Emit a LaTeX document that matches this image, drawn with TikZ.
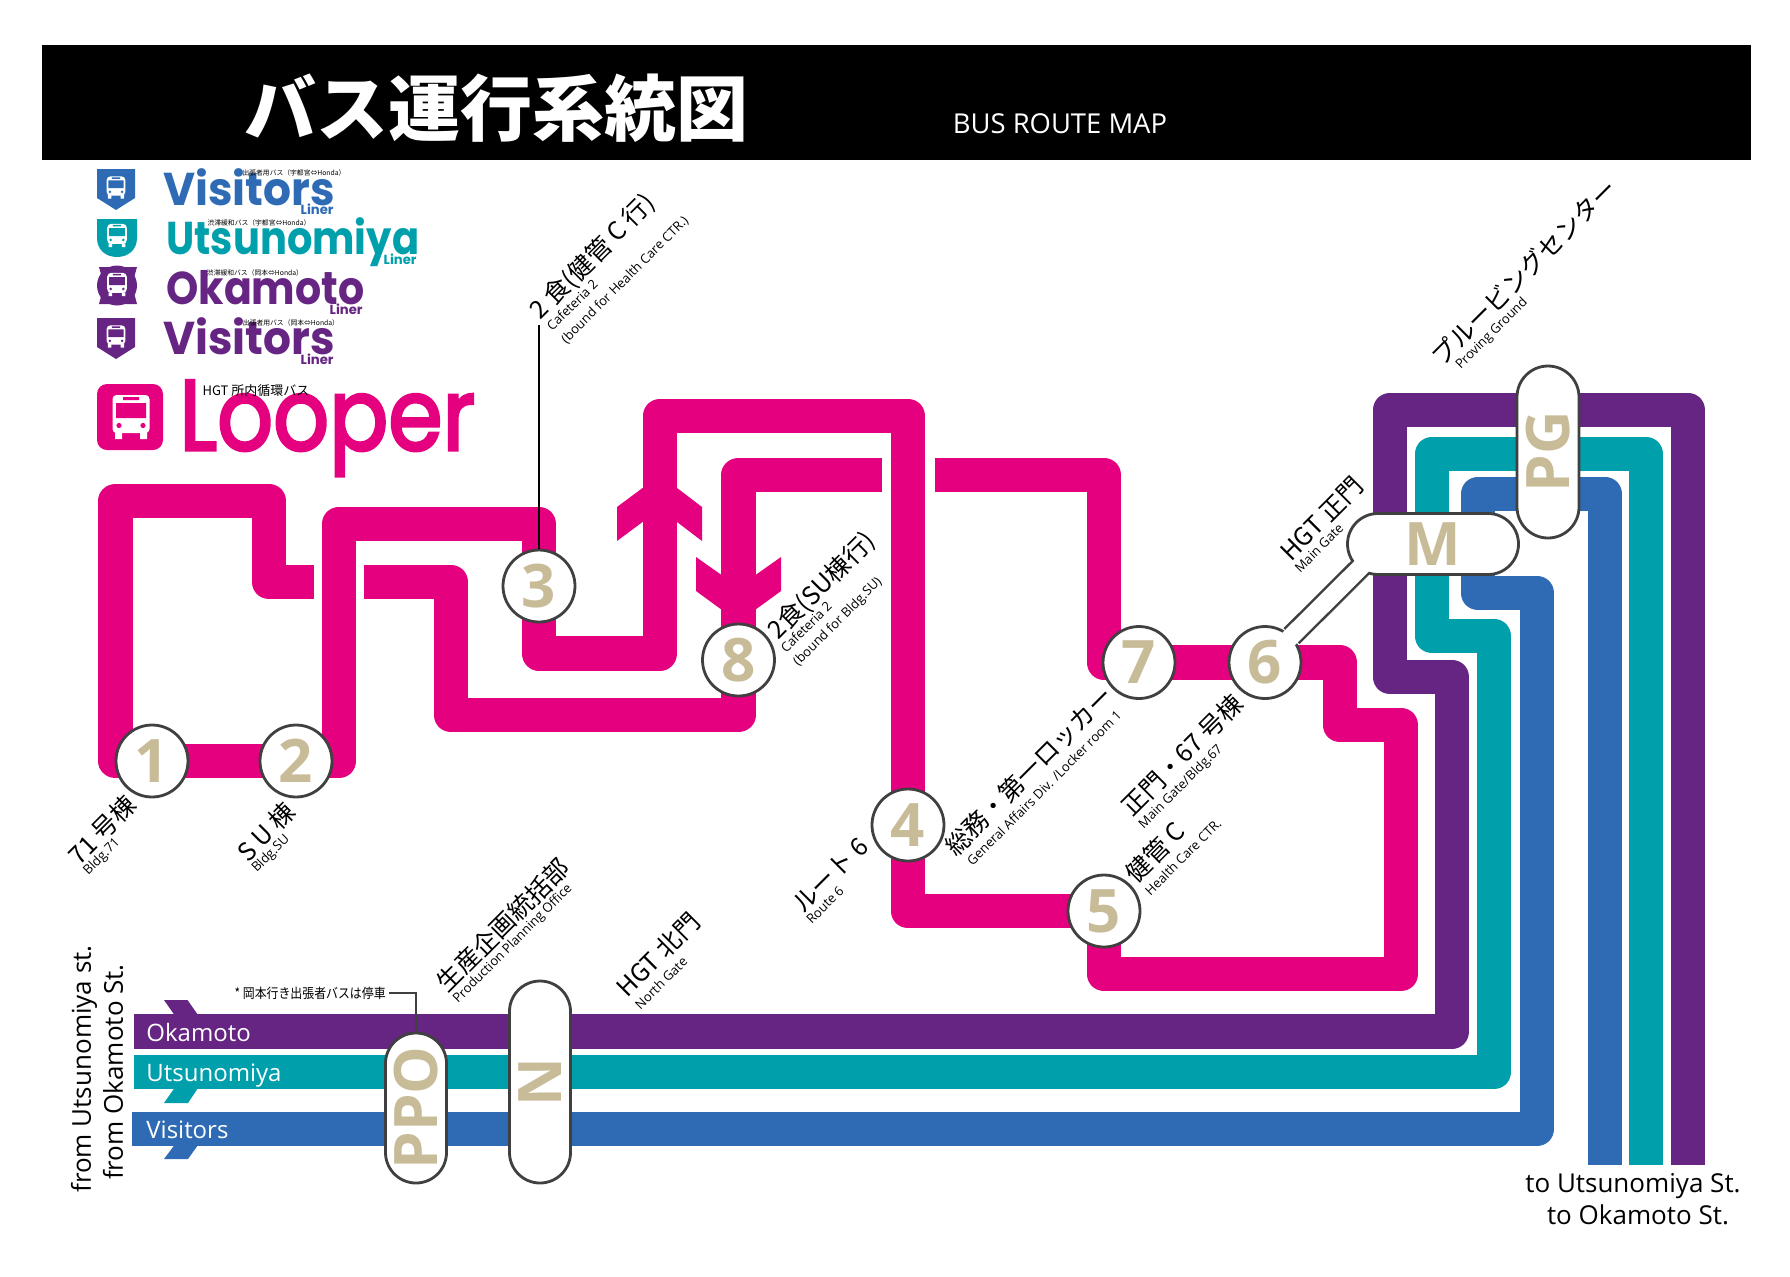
\documentclass[tikz,border=0pt]{standalone}
\usepackage{fontspec}
\setmainfont{Open Sans}
\newfontfamily\jpfont{Noto Sans CJK JP}
\newfontfamily\logofont{Poppins}
\newfontfamily\loopfont[FakeBold=3]{Poppins}
\usetikzlibrary{shapes.misc, backgrounds, calc}
\definecolor{LooperPink}{HTML}{E5007F}
\definecolor{OkaPurple}{HTML}{662483}
\definecolor{UtsTeal}{HTML}{009FAC}
\definecolor{VisBlue}{HTML}{2E6BB4}
\definecolor{StopTan}{HTML}{C8BB98}
\definecolor{StopEdge}{HTML}{404040}
\tikzset{
  looper/.style={draw=LooperPink, line width=17.3pt, line join=round},
  okaLine/.style={draw=OkaPurple, line width=17.3pt, line join=round},
  utsLine/.style={draw=UtsTeal, line width=17.3pt, line join=round},
  visLine/.style={draw=VisBlue, line width=17.3pt, line join=round},
  stopN/.style={circle, draw=StopEdge, fill=white, line width=1.4pt,
                inner sep=0pt, minimum size=36pt, text=StopTan,
                font=\fontsize{30}{30}\selectfont\bfseries},
  gate/.style={rounded rectangle, draw=StopEdge, fill=white, line width=1.4pt,
               inner sep=0pt, minimum height=30.5pt, text=StopTan,
               font=\fontsize{30}{30}\selectfont\bfseries},
  nameJ/.style={rotate=45, inner sep=0pt, font=\jpfont\fontsize{12.5}{15}\selectfont},
  nameE/.style={rotate=45, inner sep=0pt, align=left, font=\fontsize{6.5}{8}\selectfont},
  routeT/.style={text=white, anchor=west, inner sep=0pt, font=\fontsize{12}{14}\selectfont},
  logoT/.style={anchor=base west, inner sep=0pt, font=\logofont\bfseries\fontsize{23}{24}\selectfont},
  linerT/.style={anchor=base east, inner sep=0pt, font=\logofont\bfseries\fontsize{6.6}{8}\selectfont},
  logoSub/.style={inner sep=0pt, font=\jpfont\fontsize{3.4}{4}\selectfont},
}
\newcommand{\busmark}[4]{%
  \begin{scope}[shift={(#1,#2)}, scale=#3]
    \fill[white, rounded corners=2pt] (-18.5,-23) rectangle (18.5,15);
    \fill[white] (-16,14) rectangle (-9,21) (9,14) rectangle (16,21);
    \fill[#4] (-15,-15) rectangle (15,0) (-8,-21) rectangle (8,-18);
    \fill[#4] (-12,7.5) circle (1.3pt) (12,7.5) circle (1.3pt);
  \end{scope}}
\begin{document}
\begin{tikzpicture}[x=0.5pt, y=-0.5pt]
    \useasboundingbox (0,0) rectangle (1790,1276);
    %% header
    \fill[black] (42,45) rectangle (1751,160);
    \node[text=white, font=\jpfont\bfseries\fontsize{36}{40}\selectfont] (title) at (496,108) {バス運行系統図};
    \node[text=white, font=\fontsize{13.7}{15}\selectfont] (subtitle) at (1060,124) {BUS ROUTE MAP};
    %% logos
    \fill[VisBlue] (97,169) -- (135,169) -- (135,198) -- (116,210) -- (97,198) -- cycle;
    \fill[UtsTeal] (97,219) -- (137,219) -- (137,238) .. controls (137,250) and (128,257) .. (117,257)
      .. controls (106,257) and (97,250) .. (97,238) -- cycle;
    \fill[OkaPurple] (99,267) -- (137,267) -- (132,285) -- (137,304) -- (99,304) -- (104,285) -- cycle;
    \fill[OkaPurple] (117,285.5) circle (10pt);
    \fill[OkaPurple] (97,318) -- (135,318) -- (135,347) -- (116,359) -- (97,347) -- cycle;
    \fill[LooperPink, rounded corners=5pt] (97,384) rectangle (163,450);
    \busmark{116}{188}{0.51}{VisBlue}
    \busmark{117}{236}{0.53}{UtsTeal}
    \busmark{117}{285}{0.53}{OkaPurple}
    \busmark{116}{337}{0.51}{OkaPurple}
    \busmark{131}{418}{1}{LooperPink}
    \node[logoT, text=VisBlue, xscale=0.955] (logoVis) at (163,205) {Visitors};
    \node[logoT, text=UtsTeal, xscale=0.87] (logoUts) at (166,254) {Utsunomiya};
    \node[logoT, text=OkaPurple, xscale=0.893] (logoOka) at (166,304) {Okamoto};
    \node[logoT, text=OkaPurple, xscale=0.955] (logoVisB) at (163,354) {Visitors};
    \node[logoT, text=LooperPink, xscale=0.875, font=\loopfont\fontsize{50}{50}\selectfont] (logoLoop) at (179,450) {Looper};
    \node[linerT, text=VisBlue] (linerVis) at (334,214) {Liner};
    \node[linerT, text=UtsTeal] (linerUts) at (417,264) {Liner};
    \node[linerT, text=OkaPurple] (linerOka) at (363,314) {Liner};
    \node[linerT, text=OkaPurple] (linerVisB) at (334,364) {Liner};
    \node[logoSub] (subVis) at (294,173) {出張者用バス（宇都宮⇔Honda）};
    \node[logoSub] (subUts) at (259,223) {渋滞緩和バス（宇都宮⇔Honda）};
    \node[logoSub] (subOka) at (255,273) {渋滞緩和バス（岡本⇔Honda）};
    \node[logoSub] (subVisB) at (291,323) {出張者用バス（岡本⇔Honda）};
    \node[inner sep=0pt, font=\jpfont\fontsize{6.5}{8}\selectfont] (subLoop) at (256,391) {HGT 所内循環バス};
    %% stops
    \node[stopN] (n1) at (152,761) {1};
    \node[stopN] (n2) at (296,761) {2};
    \node[stopN] (n3) at (539,586) {3};
    \node[stopN] (n4) at (908,825) {4};
    \node[stopN] (n5) at (1104,911) {5};
    \node[stopN] (n6) at (1265,662.5) {6};
    \node[stopN] (n7) at (1139,662.5) {7};
    \node[stopN] (n8) at (738.5,660) {8};
    %% gates
    \node[gate, rotate=90, minimum width=75pt] (ppo) at (416,1108) {PPO};
    \node[gate, rotate=90, minimum width=101pt] (ngate) at (540,1082) {N};
    \node[gate, rotate=90, minimum width=86pt, minimum height=31pt] (pg) at (1548,452) {PG};
    \node[gate, minimum width=85.5pt] (mgate) at (1433,544) {M};
    \coordinate (mjoin) at (1366,562);
    \draw[white, line width=8.8pt, shorten <=-2pt] (n6) -- (mjoin);
    %% free ends
    \coordinate (okaS) at (134,1031.5);
    \coordinate (utsS) at (134,1072);
    \coordinate (visS) at (132,1129);
    \coordinate (okaE) at (1688,1165);
    \coordinate (utsE) at (1646,1165);
    \coordinate (visE) at (1605,1165);
    \coordinate (stubA) at (314,582);
    \coordinate (stubB) at (364,582);
    \coordinate (stubC) at (882,475);
    \coordinate (stubD) at (935,475);
    \coordinate (cafeTop) at (539,325);
    \begin{scope}[on background layer]
      %% bus lines
      \draw[okaLine] (okaS) -- (1452,1031.5) -- (1452,677) -- (1390,677) -- (1390,410) -- (1688,410) -- (okaE);
      \draw[utsLine] (utsS) -- (1494,1072) -- (1494,636) -- (1432,636) -- (1432,454) -- (1646,454) -- (utsE);
      \draw[visLine] (visS) -- (1537,1129) -- (1537,593) -- (1478,593) -- (1478,494) -- (1605,494) -- (visE);
      \fill[OkaPurple] (164,1000) -- (187.5,1000) -- (198,1015) -- (174.5,1015) -- cycle;
      \fill[UtsTeal] (174.5,1088) -- (198,1088) -- (188,1103) -- (164,1103) -- cycle;
      \fill[VisBlue] (174.5,1145) -- (198,1145) -- (188,1159) -- (164,1159) -- cycle;
      %% looper line
      \draw[looper] (n1.center) -- (115.5,761) -- (115.5,501) -- (269,501) -- (269,582) -- (stubA);
      \draw[looper] (n1.center) -- (n2.center);
      \draw[looper] (n2.center) -- (339,761) -- (339,524) -- (539,524) -- (n3.center);
      \draw[looper] (n3.center) -- (539,653.5) -- (660,653.5) -- (660,416) -- (908,416) -- (n4.center);
      \draw[looper] (n4.center) -- (908,911) -- (n5.center);
      \draw[looper] (n5.center) -- (1104,974) -- (1401,974) -- (1401,725) -- (1340,725) -- (1340,662.5) -- (n6.center);
      \draw[looper] (n6.center) -- (n7.center);
      \draw[looper] (n7.center) -- (1104,662.5) -- (1104,475) -- (stubD);
      \draw[looper] (stubC) -- (738.5,475) -- (n8.center);
      \draw[looper] (n8.center) -- (738.5,715) -- (451,715) -- (451,582) -- (stubB);
      \fill[LooperPink] (660,475) -- (702,507) -- (702,541) -- (660,509) -- (617,541) -- (617,507) -- cycle;
      \fill[LooperPink] (696,557) -- (738.5,587) -- (781,557) -- (781,591) -- (738.5,622) -- (696,591) -- cycle;
      %% link 6 to M
      \draw[StopEdge, line width=11.3pt] (n6) -- (mjoin);
    \end{scope}
    %% pointers
    \draw[line width=1pt] (cafeTop) -- (n3);
    \node[inner sep=0pt, anchor=east, xscale=0.875, font=\jpfont\fontsize{6.8}{8}\selectfont] (pponote) at (386,993) {* 岡本行き出張者バスは停車};
    \draw[StopEdge, line width=1pt] (pponote.east) ++(1.5pt,0) -| (ppo.east);
    %% names
    \node[nameJ] (j1) at (102,830) {71 号棟};
    \node[nameE] (e1) at (102,857) {Bldg.71};
    \node[nameJ] (j2) at (266,832) {S U 棟};
    \node[nameE] (e2) at (271,854) {Bldg.SU};
    \node[nameJ] (j3) at (593,257) {2 食(健管 C 行)};
    \node[nameE] (e3a) at (572,305) {Cafeteria 2};
    \node[nameE] (e3b) at (625,280) {(bound for Health Care CTR.)};
    \node[nameJ] (j8) at (822,586) {2食(SU棟行)};
    \node[nameE] (e8a) at (806,627) {Cafeteria 2};
    \node[nameE] (e8b) at (838,622) {(bound for Bldg.SU)};
    \node[nameJ] (jpg) at (1524,272) {プルービングセンター};
    \node[nameE] (epg) at (1492,334) {Proving Ground};
    \node[nameJ] (jm) at (1322,519) {HGT 正門};
    \node[nameE] (em) at (1319,548) {Main Gate};
    \node[nameJ] (j4a) at (830,875) {ルート 6};
    \node[nameE] (e4a) at (825,905) {Route 6};
    \node[nameJ] (j4b) at (1029,771) {総務・第一ロッカー};
    \node[nameE] (e4b) at (1044,788) {General Affairs Div. /Locker room 1};
    \node[nameJ] (j6) at (1182,755) {正門・67 号棟};
    \node[nameE] (e6) at (1181,787) {Main Gate/Bldg.67};
    \node[nameJ] (j5) at (1155,852) {健管 C};
    \node[nameE] (e5) at (1183,857) {Health Care CTR.};
    \node[nameJ] (jppo) at (503,925) {生産企画統括部};
    \node[nameE] (eppo) at (513,944) {Production Planning Office};
    \node[nameJ] (jn) at (658,955) {HGT 北門};
    \node[nameE] (en) at (661,983) {North Gate};
    %% route names
    \node[routeT] (tOka) at (146,1032) {Okamoto};
    \node[routeT] (tUts) at (146,1076) {Utsunomiya};
    \node[routeT] (tVis) at (146,1130) {Visitors};
    \node[rotate=90, font=\fontsize{13}{16}\selectfont] (fromU) at (84,1069) {from Utsunomiya st.};
    \node[rotate=90, font=\fontsize{13}{16}\selectfont] (fromO) at (113,1072) {from Okamoto St.};
    \node[font=\fontsize{13}{16}\selectfont] (toU) at (1633,1186) {to Utsunomiya St.};
    \node[font=\fontsize{13}{16}\selectfont] (toO) at (1638,1215) {to Okamoto St.};
\end{tikzpicture}
\end{document}
